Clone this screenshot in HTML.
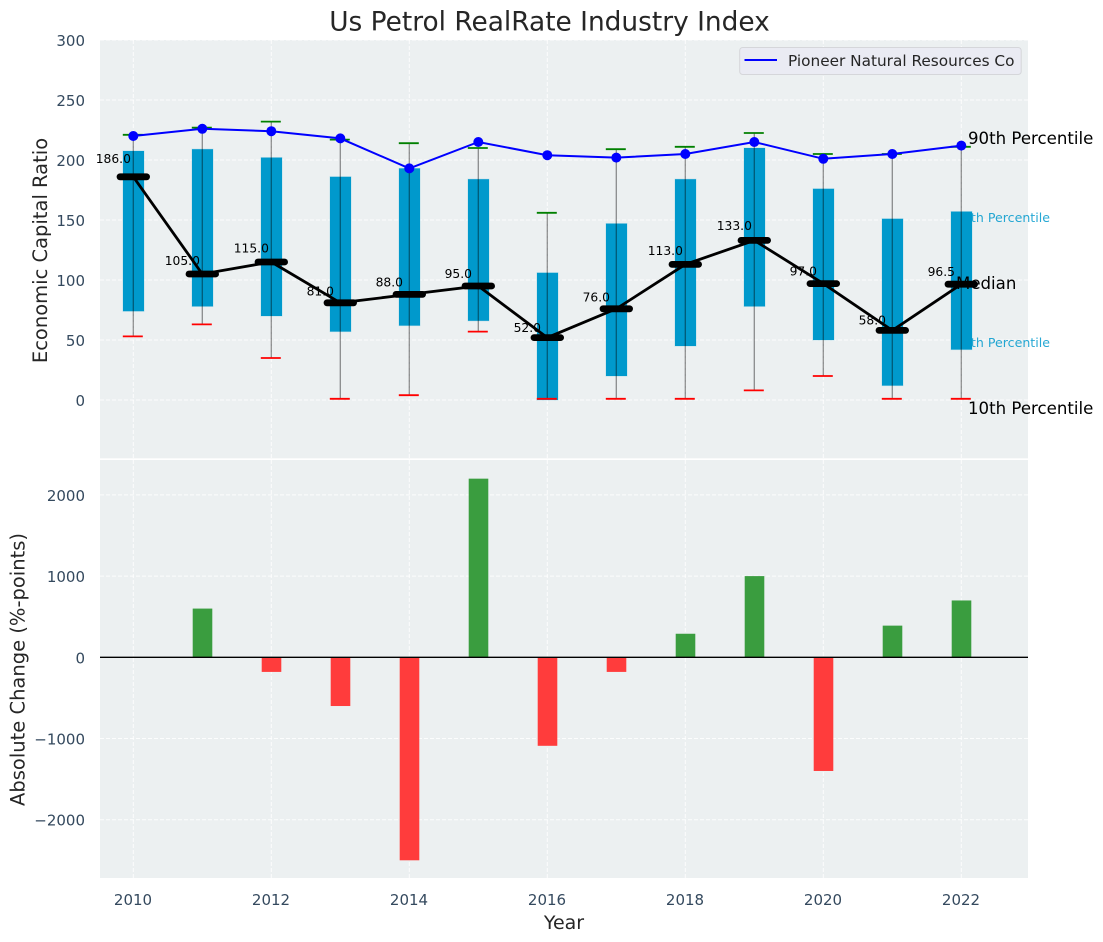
<!DOCTYPE html>
<html lang="en">
<head>
<meta charset="utf-8">
<title>Us Petrol RealRate Industry Index</title>
<style>
html,body{margin:0;padding:0;background:#fff;width:1103px;height:942px;overflow:hidden}
svg{display:block}
text{font-family:"DejaVu Sans","Liberation Sans",sans-serif}
</style>
</head>
<body>
<svg id="chart" xmlns="http://www.w3.org/2000/svg" width="1103" height="942" viewBox="0 0 1103 942"></svg>
<script>
const years = [2010,2011,2012,2013,2014,2015,2016,2017,2018,2019,2020,2021,2022];
const medians = [186,105,115,81,88,95,52,76,113,133,97,58,96.5];
const p10 = [53,63,35,1,4,57,1,1,1,8,20,1,1];
const p25 = [74,78,70,57,62,66,0,20,45,78,50,12,42];
const p75 = [207.5,209,202,186,193,184,106,147,184,210,176,151,157];
const p90 = [221,227,232,217,214,210,156,209,211,222.5,205,205,211];
const pioneer = [220,226,224,218,193,215,204,202,205,215,201,205,212];
const changes = [0,600,-180,-600,-2500,2200,-1090,-180,290,1000,-1400,390,700];
const xTickYears = [2010,2012,2014,2016,2018,2020,2022];
const topTicks = [0,50,100,150,200,250,300];
const bottomTicks = [-2000,-1000,0,1000,2000];
const titleText = "Us Petrol RealRate Industry Index";
const legendLabel = "Pioneer Natural Resources Co";

const NS = "http://www.w3.org/2000/svg";
const svg = document.getElementById("chart");
const L = 100, R = 1028, T1 = 40, B1 = 458.3, T2 = 460, B2 = 878;
const sx = v => 133.3 + (v - 2010) * 69;
const sy1 = v => 400 - v * 1.2;
const sy2 = v => 657.3 - v * 0.0812;

function make(tag, props, parent) {
  const el = document.createElementNS(NS, tag);
  for (const k in props) el.setAttribute(k, props[k]);
  (parent || svg).appendChild(el);
  return el;
}
function makeText(str, props, parent) {
  const el = make("text", props, parent);
  el.textContent = str;
  return el;
}
function group(parent) {
  return make("g", {}, parent);
}

/* panels */
const panelTop = make("rect", {x:L, y:T1, width:R-L, height:B1-T1, fill:"#ecf0f1"});


const panelBottom = make("rect", {x:L, y:T2, width:R-L, height:B2-T2, fill:"#ecf0f1"});



/* grid */
const gridG = group();


const gridStyle = {stroke:"#fff", "stroke-width":1, "stroke-dasharray":"4 2", "stroke-opacity":0.85};
xTickYears.forEach(y => {
  make("line", Object.assign({x1:sx(y), x2:sx(y), y1:T1, y2:B1}, gridStyle), gridG);
  make("line", Object.assign({x1:sx(y), x2:sx(y), y1:T2, y2:B2}, gridStyle), gridG);
});
topTicks.forEach(v => {
  make("line", Object.assign({x1:L, x2:R, y1:sy1(v), y2:sy1(v)}, gridStyle), gridG);
});
bottomTicks.forEach(v => {
  make("line", Object.assign({x1:L, x2:R, y1:sy2(v), y2:sy2(v)}, gridStyle), gridG);
});

/* tick labels */
const tickColor = "#34495e";
const tickG = group();


xTickYears.forEach(y => {
  const t = makeText(String(y), {x:sx(y)-0.3, y:905, "text-anchor":"middle", "font-size":15, fill:tickColor}, tickG);
  
  
});
topTicks.forEach(v => {
  const t = makeText(String(v), {x:85, y:sy1(v)+6, "text-anchor":"end", "font-size":15, fill:tickColor}, tickG);
  
  
});
bottomTicks.forEach(v => {
  const t = makeText(String(v).replace("-", "\u2212"), {x:85, y:sy2(v)+6, "text-anchor":"end", "font-size":15, fill:tickColor}, tickG);
  
  
});

/* percentile side labels sitting behind the boxes */
const lab75 = makeText("75th Percentile", {x:1050, y:222, "text-anchor":"end", "font-size":12.6, fill:"#0099cc", "fill-opacity":0.85});


const lab25 = makeText("25th Percentile", {x:1050, y:347, "text-anchor":"end", "font-size":12.6, fill:"#0099cc", "fill-opacity":0.85});



/* boxes */
const boxG = group();


years.forEach((y, i) => {
  const r = make("rect", {x:sx(y)-10.3, y:sy1(p75[i]), width:21, height:sy1(p25[i])-sy1(p75[i]), fill:"#0099cc", stroke:"#0099cc", "stroke-opacity":0.2, "stroke-width":1}, boxG);
  
  
});

/* whiskers */
const whiskG = group();


years.forEach((y, i) => {
  const w = make("line", {x1:sx(y), x2:sx(y), y1:sy1(p10[i]), y2:sy1(p90[i]), stroke:"#000", "stroke-opacity":0.42, "stroke-width":1.3}, whiskG);
  
  
  const hi = make("line", {x1:sx(y)-10.5, x2:sx(y)+9.5, y1:sy1(p90[i]), y2:sy1(p90[i]), stroke:"#008000", "stroke-width":1.8}, whiskG);
  
  
  const lo = make("line", {x1:sx(y)-10.5, x2:sx(y)+9.5, y1:sy1(p10[i]), y2:sy1(p10[i]), stroke:"#ff0000", "stroke-width":1.8}, whiskG);
  
  
});

/* median line and ticks */
const medianLine = make("polyline", {points:years.map((y,i)=>sx(y)+","+sy1(medians[i])).join(" "), fill:"none", stroke:"#000", "stroke-width":2.8});


const medG = group();


years.forEach((y, i) => {
  const m = make("line", {x1:sx(y)-13.3, x2:sx(y)+13.3, y1:sy1(medians[i]), y2:sy1(medians[i]), stroke:"#000", "stroke-width":6.8, "stroke-linecap":"round"}, medG);
  
  
  const t = makeText(medians[i].toFixed(1), {x:sx(y)-20, y:sy1(medians[i]) - (7 + 0.06*medians[i]) + 4.5, "text-anchor":"middle", "font-size":12.3, fill:"#000"}, medG);
  
  
});

/* pioneer series */
const pLine = make("polyline", {points:years.map((y,i)=>sx(y)+","+sy1(pioneer[i])).join(" "), fill:"none", stroke:"#0000ff", "stroke-width":2});


years.forEach((y, i) => {
  const c = make("circle", {cx:sx(y), cy:sy1(pioneer[i]), r:5, fill:"#0000ff"});
  
  
});

/* side annotations */
const a90 = makeText("90th Percentile", {x:968, y:144, "font-size":16.6, fill:"#000"});


const aMed = makeText("Median", {x:956, y:289, "font-size":16.6, fill:"#000"});


const a10 = makeText("10th Percentile", {x:968, y:414, "font-size":16.6, fill:"#000"});



/* legend */
const legend = group();


make("rect", {x:739.7, y:47.5, width:281.5, height:27, rx:3, fill:"#eaeaf2", "fill-opacity":0.95, stroke:"#d5d6da", "stroke-width":1}, legend);
make("line", {x1:744.5, x2:777, y1:60, y2:60, stroke:"#0000ff", "stroke-width":2}, legend);
const legendText = makeText(legendLabel, {x:788, y:66, "font-size":15.3, fill:"#262626"}, legend);



/* bars */
const barG = group();


years.forEach((y, i) => {
  if (!changes[i]) return;
  const top = Math.min(sy2(0), sy2(changes[i]));
  const h = Math.abs(sy2(changes[i]) - sy2(0));
  const b = make("rect", {x:sx(y)-9.6, y:top, width:19.6, height:h, fill:changes[i] > 0 ? "#3a9d3f" : "#ff3c3c"}, barG);
  
  
});
const zeroLine = make("line", {x1:L, x2:R, y1:sy2(0), y2:sy2(0), stroke:"#000", "stroke-width":1.3});



/* titles */
const titleEl = makeText(titleText, {x:549.5, y:30.5, "text-anchor":"middle", "font-size":26.4, fill:"#262626"});


const xTitle = makeText("Year", {x:564, y:929, "text-anchor":"middle", "font-size":19, fill:"#262626"});


const yTitleTop = makeText("Economic Capital Ratio", {x:0, y:0, transform:"translate(47 250.5) rotate(-90)", "text-anchor":"middle", "font-size":19.5, fill:"#262626"});


const yTitleBottom = makeText("Absolute Change (%-points)", {x:0, y:0, transform:"translate(24.5 669.5) rotate(-90)", "text-anchor":"middle", "font-size":19.5, fill:"#262626"});


</script>
</body>
</html>
